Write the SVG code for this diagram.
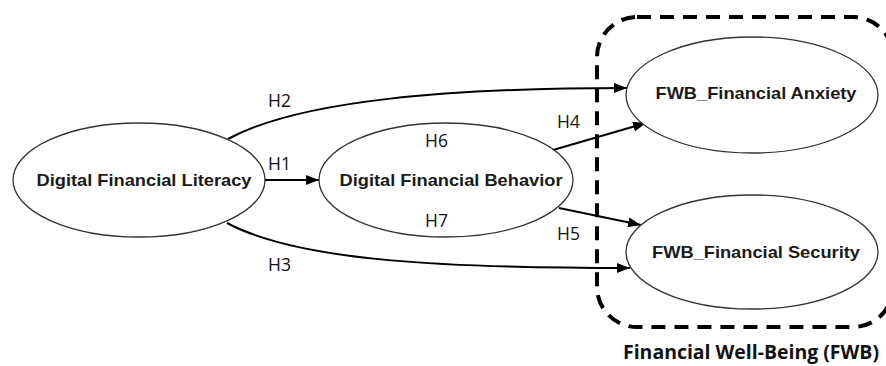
<svg xmlns="http://www.w3.org/2000/svg" width="886" height="366" viewBox="0 0 886 366">
  <style>
    .node ellipse { fill: #ffffff; stroke: #333333; stroke-width: 1.3; }
    .node text { font-family: "Liberation Sans", Arial, sans-serif; font-weight: bold; font-size: 16.5px; fill: #1a1a1a; text-anchor: middle; }
    .edge { fill: none; stroke: #000000; stroke-width: 2; }
    .elabel { font-family: "Open Sans", "Liberation Sans", sans-serif; font-size: 17.5px; fill: #111111; }
    .group-box { fill: none; stroke: #000000; stroke-width: 4; stroke-dasharray: 14 9; }
    .group-label { font-family: "Open Sans", "Liberation Sans", sans-serif; font-weight: bold; font-size: 19px; fill: #111111; }
  </style>
  <defs>
    <marker id="arrow" viewBox="0 0 13 10" refX="13" refY="5" markerWidth="13" markerHeight="10" markerUnits="userSpaceOnUse" orient="auto">
      <path d="M0,0 L13,5 L0,10 Z" fill="#000000"/>
    </marker>
  </defs>

  <!-- Financial Well-Being grouping (right side runs past the canvas edge) -->
  <g id="fwb-group">
    <rect class="group-box" x="597" y="17" width="296" height="310" rx="40" ry="40"/>
    <text class="group-label" x="879" y="359" text-anchor="end" textLength="256" lengthAdjust="spacingAndGlyphs">Financial Well-Being (FWB)</text>
  </g>

  <!-- connectors -->
  <g id="connectors">
    <path class="edge" d="M265,180 L319,180" marker-end="url(#arrow)"/>
    <path class="edge" d="M228,139 C300,100 450,88 627,88" marker-end="url(#arrow)"/>
    <path class="edge" d="M227,223 C300,262 450,268 630,268" marker-end="url(#arrow)"/>
    <path class="edge" d="M553,150 L646,123" marker-end="url(#arrow)"/>
    <path class="edge" d="M559,208 L641,225" marker-end="url(#arrow)"/>
  </g>

  <g id="dfl" class="node">
    <ellipse cx="139" cy="180" rx="126" ry="57"/>
    <text x="144" y="186" textLength="215" lengthAdjust="spacingAndGlyphs">Digital Financial Literacy</text>
  </g>
  <g id="dfb" class="node">
    <ellipse cx="446" cy="180" rx="127" ry="57"/>
    <text x="451" y="186" textLength="223" lengthAdjust="spacingAndGlyphs">Digital Financial Behavior</text>
  </g>
  <g id="fwb-anxiety" class="node">
    <ellipse cx="752" cy="95" rx="126" ry="58"/>
    <text x="756" y="99" textLength="201" lengthAdjust="spacingAndGlyphs">FWB_Financial Anxiety</text>
  </g>
  <g id="fwb-security" class="node">
    <ellipse cx="752" cy="252" rx="126" ry="57"/>
    <text x="756" y="258" textLength="208" lengthAdjust="spacingAndGlyphs">FWB_Financial Security</text>
  </g>

  <!-- hypothesis labels, drawn last so H6/H7 sit on top of the behaviour ellipse -->
  <g id="edge-labels">
    <text class="elabel" x="268" y="170">H1</text>
    <text class="elabel" x="268" y="107">H2</text>
    <text class="elabel" x="268" y="271">H3</text>
    <text class="elabel" x="557" y="128">H4</text>
    <text class="elabel" x="557" y="240">H5</text>
    <text class="elabel" x="425" y="147">H6</text>
    <text class="elabel" x="425" y="227">H7</text>
  </g>
</svg>
